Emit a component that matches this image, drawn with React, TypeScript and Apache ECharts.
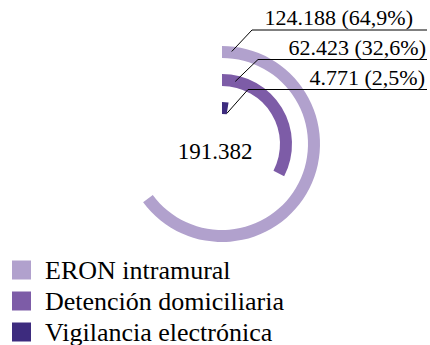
import React, { useEffect, useRef } from "react";
import * as echarts from "echarts";

const categories = ["Vigilancia electrónica", "Detención domiciliaria", "ERON intramural"];
const values = [4771, 62423, 124188];
const valueLabels = ["4.771 (2,5%)", "62.423 (32,6%)", "124.188 (64,9%)"];
const totalLabel = "191.382";
const legendOrder = ["ERON intramural", "Detención domiciliaria", "Vigilancia electrónica"];
const colors = ["#3d2b7e", "#7d5ca7", "#b1a1cd"];

const FONT = "Liberation Serif";

export default function App() {
  const ref = useRef<HTMLDivElement>(null);
  useEffect(() => {
    if (!ref.current) return;
    const chart = echarts.init(ref.current, undefined, { renderer: "svg" });
    const total = values.reduce((a, b) => a + b, 0);
    const cx = 222;
    const cy = 144;
    const r0 = 22;
    const band = 28;
    // label layout (annotation positions)
    const labelRight = [425, 426, 413];
    const labelY = [77.5, 47, 17.5];
    const underlineY = [89.5, 59.5, 30];
    const underlineStart = [248, 258, 252];
    const leaderAngleDeg = [9, 12, 6];
    const leaderR = [31, 64, 93];

    const graphics: any[] = [];
    categories.forEach((_, i) => {
      const a = (leaderAngleDeg[i] * Math.PI) / 180;
      const ex = cx + leaderR[i] * Math.sin(a);
      const ey = cy - leaderR[i] * Math.cos(a);
      graphics.push({
        type: "polyline",
        shape: {
          points: [
            [ex, ey],
            [underlineStart[i], underlineY[i]],
            [427, underlineY[i]],
          ],
        },
        style: { stroke: "#000", lineWidth: 1, fill: null },
        z: 10,
      });
      graphics.push({
        type: "text",
        x: labelRight[i],
        y: labelY[i],
        style: {
          text: valueLabels[i],
          fontSize: 22,
          fontFamily: FONT,
          fill: "#000",
          align: "right",
          verticalAlign: "middle",
        },
        z: 10,
      });
    });
    graphics.push({
      type: "text",
      x: 215,
      y: 151,
      style: {
        text: totalLabel,
        fontSize: 23,
        fontFamily: FONT,
        fill: "#000",
        align: "center",
        verticalAlign: "middle",
      },
    });

    const series = categories.map((name, i) => ({
      name,
      type: "bar",
      coordinateSystem: "polar",
      stack: "all",
      barWidth: 12,
      itemStyle: { color: colors[i] },
      data: categories.map((_, j) => (j === i ? values[i] : "-")),
    }));

    chart.setOption({
      animation: false,
      textStyle: { fontFamily: FONT },
      polar: { center: [cx, cy], radius: [r0, r0 + band * categories.length] },
      angleAxis: {
        type: "value",
        min: 0,
        max: total,
        startAngle: 90,
        clockwise: true,
        show: false,
      },
      radiusAxis: { type: "category", data: categories, show: false },
      legend: {
        orient: "vertical",
        left: 12,
        top: 257,
        height: 200,
        padding: 0,
        itemWidth: 19,
        itemHeight: 19,
        itemGap: 5,
        icon: "rect",
        data: legendOrder,
        textStyle: {
          fontSize: 26,
          fontFamily: FONT,
          color: "#000",
          padding: [0, 0, 0, 9],
        },
      },
      graphic: graphics,
      series,
    });
    return () => chart.dispose();
  }, []);
  return (
    <div
      ref={ref}
      style={{ position: "fixed", left: 0, top: 0, width: 430, height: 345, background: "#fff" }}
    />
  );
}
